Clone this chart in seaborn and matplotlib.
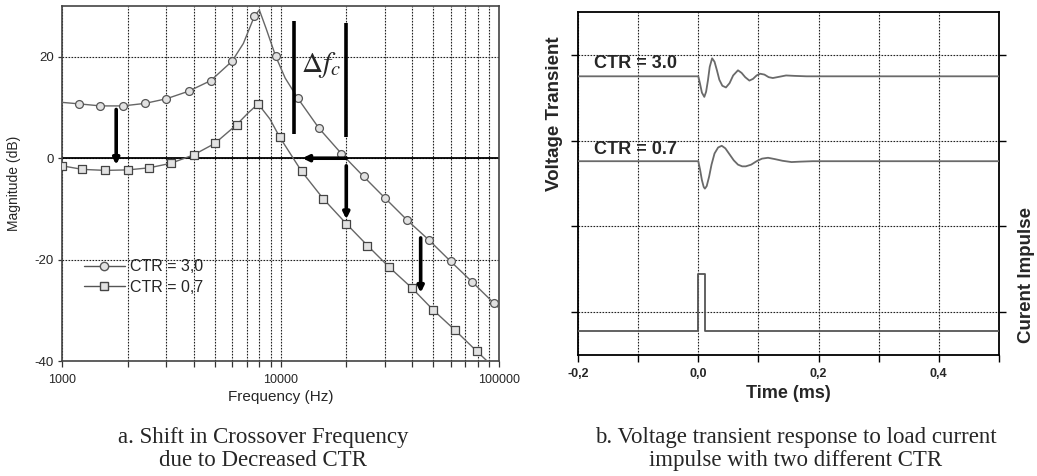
import matplotlib
matplotlib.use("Agg")
import matplotlib.pyplot as plt
import seaborn as sns
from matplotlib.lines import Line2D
from matplotlib.ticker import FixedLocator, FuncFormatter, NullFormatter, MultipleLocator

# --------------------------
# panel a: magnitude response
# --------------------------
# markers
freq_ctr30 = [1200, 1500, 1900, 2400, 3000, 3800, 4800, 6000, 7600, 9500,
              12000, 15000, 19000, 24000, 30000, 38000, 48000, 60000, 75500, 95000]
mag_ctr30 = [10.7, 10.3, 10.3, 10.8, 11.7, 13.2, 15.3, 19.1, 28.0, 20.1,
             11.8, 5.9, 0.9, -3.6, -7.8, -12.2, -16.2, -20.3, -24.4, -28.6]

freq_ctr07 = [1000, 1240, 1580, 2000, 2500, 3150, 4000, 5000, 6300, 7900,
              9900, 12500, 15700, 20000, 25000, 31500, 40000, 50000, 63000, 79000]
mag_ctr07 = [-1.5, -2.2, -2.4, -2.3, -1.9, -1.0, 0.65, 2.9, 6.6, 10.7,
             4.2, -2.6, -8.0, -12.9, -17.2, -21.5, -25.6, -29.9, -33.9, -38.0]

# curve traces (markers plus a few extra points read near the peaks / edges)
curve_f30 = [1000, 1200, 1500, 1900, 2400, 3000, 3800, 4800, 6000, 6760, 7600, 8000,
             8600, 9500, 10500, 12000, 15000, 19000, 24000, 30000, 38000, 48000,
             60000, 75500, 95000, 100000]
curve_m30 = [11.0, 10.7, 10.3, 10.3, 10.8, 11.7, 13.2, 15.3, 19.1, 22.6, 28.0, 29.2,
             25.5, 20.1, 15.8, 11.8, 5.9, 0.9, -3.6, -7.8, -12.2, -16.2,
             -20.3, -24.4, -28.6, -29.5]

curve_f07 = [1000, 1240, 1580, 2000, 2500, 3150, 4000, 5000, 6300, 7100, 7900,
             8950, 9900, 12500, 15700, 20000, 25000, 31500, 40000, 50000, 63000,
             79000, 90000]
curve_m07 = [-1.5, -2.2, -2.4, -2.3, -1.9, -1.0, 0.65, 2.9, 6.6, 8.9, 10.7,
             7.7, 4.2, -2.6, -8.0, -12.9, -17.2, -21.5, -25.6, -29.9, -33.9,
             -38.0, -40.3]

legend_labels = ["CTR = 3,0", "CTR = 0,7"]

# --------------------------
# panel b: transient response
# --------------------------
t_ctr30 = [-0.2, 0.0, 0.003, 0.006, 0.010, 0.013, 0.016, 0.019, 0.023, 0.027, 0.031,
           0.035, 0.040, 0.046, 0.052, 0.058, 0.066, 0.072, 0.078, 0.085, 0.091,
           0.097, 0.103, 0.110, 0.117, 0.124, 0.135, 0.146, 0.160, 0.180, 0.5]
v_ctr30 = [3.25, 3.25, 3.16, 3.06, 3.01, 3.07, 3.20, 3.36, 3.46, 3.42, 3.32,
           3.21, 3.14, 3.12, 3.17, 3.26, 3.32, 3.29, 3.24, 3.20, 3.22,
           3.26, 3.28, 3.27, 3.24, 3.23, 3.245, 3.26, 3.255, 3.25, 3.25]

t_ctr07 = [-0.2, 0.0, 0.003, 0.006, 0.009, 0.011, 0.014, 0.018, 0.022, 0.027, 0.033,
           0.039, 0.045, 0.052, 0.059, 0.066, 0.073, 0.079, 0.088, 0.097, 0.106,
           0.116, 0.127, 0.140, 0.155, 0.170, 0.190, 0.5]
v_ctr07 = [2.26, 2.26, 2.16, 2.04, 1.96, 1.94, 1.97, 2.08, 2.22, 2.35, 2.42,
           2.44, 2.41, 2.34, 2.27, 2.22, 2.20, 2.20, 2.22, 2.26, 2.29,
           2.30, 2.285, 2.265, 2.25, 2.255, 2.26, 2.26]

t_impulse = [-0.2, 0.0, 0.0, 0.011, 0.011, 0.5]
v_impulse = [0.28, 0.28, 0.945, 0.945, 0.28, 0.28]

trace_labels = ["CTR = 3.0", "CTR = 0.7"]

# --------------------------
# style
# --------------------------
sns.set_theme(style="white")
plt.rcParams["font.family"] = ["Liberation Sans", "DejaVu Sans"]
plt.rcParams["mathtext.fontset"] = "stix"
plt.rcParams["axes.unicode_minus"] = False  # plain hyphen as in the scan

GRID = dict(color="#222222", linestyle=(0, (1.5, 1.2)), linewidth=0.8)

fig = plt.figure(figsize=(10.37, 4.76), dpi=100)

# ---------- panel a ----------
ax1 = fig.add_axes([0.0598, 0.241, 0.4214, 0.7466])
ax1.set_xscale("log")

sns.lineplot(x=curve_f30, y=curve_m30, ax=ax1, color="#666666", lw=1.0,
             sort=False, estimator=None, zorder=3)
sns.lineplot(x=curve_f07, y=curve_m07, ax=ax1, color="#666666", lw=1.0,
             sort=False, estimator=None, zorder=3)
sns.scatterplot(x=freq_ctr30, y=mag_ctr30, ax=ax1, marker="o", s=32,
                color="#e2e2e2", edgecolor="#555555", linewidth=0.9, zorder=4)
sns.scatterplot(x=freq_ctr07, y=mag_ctr07, ax=ax1, marker="s", s=26,
                color="#e2e2e2", edgecolor="#444444", linewidth=0.9, zorder=4)

ax1.set_xlim(1000, 100000)
ax1.set_ylim(-40, 30)
ax1.xaxis.set_major_locator(FixedLocator([1000, 10000, 100000]))
ax1.xaxis.set_major_formatter(FuncFormatter(lambda v, p: f"{int(round(v))}"))
ax1.xaxis.set_minor_locator(FixedLocator([m * d for d in (1000, 10000) for m in range(2, 10)]))
ax1.xaxis.set_minor_formatter(NullFormatter())
ax1.yaxis.set_major_locator(FixedLocator([-40, -20, 0, 20]))

ax1.grid(True, which="both", axis="x", **GRID)
ax1.grid(True, which="major", axis="y", **GRID)
ax1.axhline(0, color="black", lw=1.3, zorder=2)

ax1.tick_params(axis="x", which="both", bottom=True, direction="out", length=4,
                width=0.9, color="#333333", labelsize=9, pad=5)
ax1.tick_params(axis="y", which="major", left=True, direction="out", length=3,
                width=0.9, color="#333333", labelsize=9.5, pad=3)
for s in ax1.spines.values():
    s.set_color("#444444")
    s.set_linewidth(1.2)

ax1.set_xlabel("Frequency (Hz)", fontsize=11, labelpad=3)
ax1.set_ylabel("Magnitude (dB)", fontsize=10, labelpad=10)

handles = [
    Line2D([], [], color="#555555", lw=1.0, marker="o", ms=6, mfc="#e2e2e2", mec="#555555"),
    Line2D([], [], color="#555555", lw=1.0, marker="s", ms=5.5, mfc="#e2e2e2", mec="#444444"),
]
ax1.legend(handles, legend_labels, loc="upper left", bbox_to_anchor=(0.035, 0.305),
           frameon=False, fontsize=11.5, handlelength=2.6, handletextpad=0.3,
           labelspacing=0.35, borderaxespad=0)

# arrows and delta-f bars
arrow_kw = dict(arrowstyle="-|>", color="black", lw=2.6, mutation_scale=9,
                shrinkA=0, shrinkB=0)
for (x0, y0), (x1, y1) in [((1770, 9.6), (1770, -1.3)),
                           ((20000, 0.0), (12600, 0.0)),
                           ((20000, -1.5), (20000, -12.0)),
                           ((43800, -15.7), (43800, -26.5))]:
    ax1.annotate("", xy=(x1, y1), xytext=(x0, y0), arrowprops=arrow_kw, zorder=5)
ax1.plot([11500, 11500], [27.0, 4.8], color="black", lw=2.6, solid_capstyle="butt", zorder=5)
ax1.plot([20000, 20000], [26.6, 4.2], color="black", lw=2.6, solid_capstyle="butt", zorder=5)
ax1.text(15300, 18.3, r"$\Delta f_c$", fontsize=21, ha="center", va="center", zorder=6)

# ---------- panel b ----------
ax2 = fig.add_axes([0.5574, 0.2542, 0.4059, 0.7206])

sns.lineplot(x=t_ctr30, y=v_ctr30, ax=ax2, color="#6a6a6a", lw=1.3,
             sort=False, estimator=None, zorder=3)
sns.lineplot(x=t_ctr07, y=v_ctr07, ax=ax2, color="#6a6a6a", lw=1.3,
             sort=False, estimator=None, zorder=3)
sns.lineplot(x=t_impulse, y=v_impulse, ax=ax2, color="#555555", lw=1.3,
             sort=False, estimator=None, zorder=3)

ax2.set_xlim(-0.2, 0.5)
ax2.set_ylim(0, 4)
ax2.xaxis.set_major_locator(MultipleLocator(0.2))
ax2.xaxis.set_minor_locator(MultipleLocator(0.1))
ax2.xaxis.set_major_formatter(FuncFormatter(lambda v, p: f"{round(v, 1):.1f}".replace("-0.0", "0.0").replace(".", ",")))
ax2.yaxis.set_major_locator(FixedLocator([0.5, 1.5, 2.5, 3.5]))
ax2.grid(True, which="both", axis="x", **GRID)
ax2.grid(True, which="major", axis="y", **GRID)

ax2.tick_params(axis="x", which="both", bottom=True, direction="out", length=5,
                width=1.0, color="black", labelsize=9, pad=4)
for lab in ax2.get_xticklabels():
    lab.set_fontweight("bold")
ax2.tick_params(axis="y", which="major", left=True, right=True, direction="out",
                length=5, width=1.0, color="black", labelleft=False)
for s in ax2.spines.values():
    s.set_color("black")
    s.set_linewidth(1.3)

ax2.set_xlabel("Time (ms)", fontsize=13, fontweight="bold", labelpad=4)
ax2.text(-0.055, 0.703, "Voltage Transient", transform=ax2.transAxes, rotation=90,
         fontsize=13.5, fontweight="bold", ha="center", va="center")
ax2.text(1.066, 0.233, "Curent Impulse", transform=ax2.transAxes, rotation=90,
         fontsize=13.5, fontweight="bold", ha="center", va="center")
ax2.text(-0.173, 3.40, trace_labels[0], fontsize=13, fontweight="bold", ha="left", va="center")
ax2.text(-0.173, 2.40, trace_labels[1], fontsize=13, fontweight="bold", ha="left", va="center")

# captions
fig.text(263 / 1037, 0.056, "a. Shift in Crossover Frequency\ndue to Decreased CTR",
         family=["Liberation Serif", "DejaVu Serif"], fontsize=16.5, ha="center",
         va="center", linespacing=1.12)
fig.text(796 / 1037, 0.056, "b. Voltage transient response to load current\nimpulse with two different CTR",
         family=["Liberation Serif", "DejaVu Serif"], fontsize=16.5, ha="center",
         va="center", linespacing=1.12)

fig.savefig("out.png", dpi=100)
